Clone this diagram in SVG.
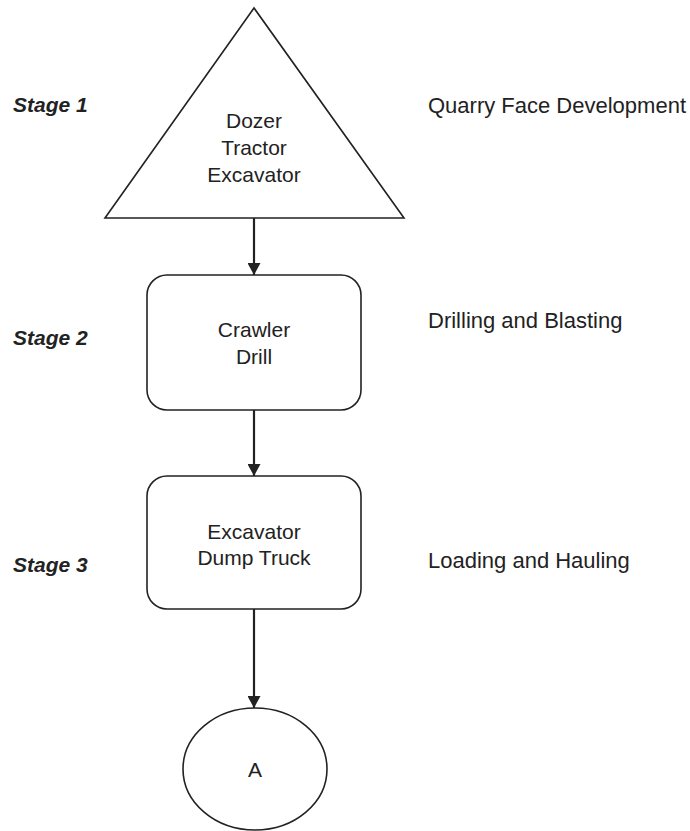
<svg xmlns="http://www.w3.org/2000/svg" width="690" height="831" viewBox="0 0 690 831">
<style>
.shape{fill:#fff;stroke:#222;stroke-width:1.6}
.lbl{font-family:"Liberation Sans",Arial,sans-serif;font-size:21px;fill:#222;text-anchor:middle}
.side{font-family:"Liberation Sans",Arial,sans-serif;font-size:22px;fill:#222}
.stage{font-family:"Liberation Sans",Arial,sans-serif;font-size:21px;font-weight:bold;font-style:italic;fill:#222}
.conn{stroke:#222;stroke-width:2.2;fill:none}
</style>
<defs>
<marker id="arr" viewBox="0 0 12 13" refX="12" refY="6.5" markerWidth="12" markerHeight="13" markerUnits="userSpaceOnUse" orient="auto">
<path d="M0,0 L12,6.5 L0,13 Z" fill="#222"/>
</marker>
</defs>
<rect width="690" height="831" fill="#fff"/>
<g id="stages">
<text class="stage" x="13" y="112">Stage 1</text>
<text class="stage" x="13" y="345">Stage 2</text>
<text class="stage" x="13" y="572">Stage 3</text>
</g>
<g id="descriptions">
<text class="side" x="428" y="113">Quarry Face Development</text>
<text class="side" x="428" y="328">Drilling and Blasting</text>
<text class="side" x="428" y="568">Loading and Hauling</text>
</g>
<g id="connectors">
<line class="conn" x1="254" y1="218" x2="254" y2="275" marker-end="url(#arr)"/>
<line class="conn" x1="254" y1="410" x2="254" y2="476" marker-end="url(#arr)"/>
<line class="conn" x1="254" y1="609" x2="254" y2="708" marker-end="url(#arr)"/>
</g>
<g id="stage1">
<polygon class="shape" points="254,8 105,218 404,218"/>
<text class="lbl" x="254" y="128">Dozer</text>
<text class="lbl" x="254" y="155">Tractor</text>
<text class="lbl" x="254" y="182">Excavator</text>
</g>
<g id="stage2">
<rect class="shape" x="147" y="275" width="214" height="135" rx="20" ry="20"/>
<text class="lbl" x="254" y="337">Crawler</text>
<text class="lbl" x="254" y="364">Drill</text>
</g>
<g id="stage3">
<rect class="shape" x="147" y="476" width="214" height="133" rx="20" ry="20"/>
<text class="lbl" x="254" y="539">Excavator</text>
<text class="lbl" x="254" y="565">Dump Truck</text>
</g>
<g id="connectorA">
<ellipse class="shape" cx="255" cy="769" rx="72" ry="61"/>
<text class="lbl" x="255" y="777">A</text>
</g>
</svg>
